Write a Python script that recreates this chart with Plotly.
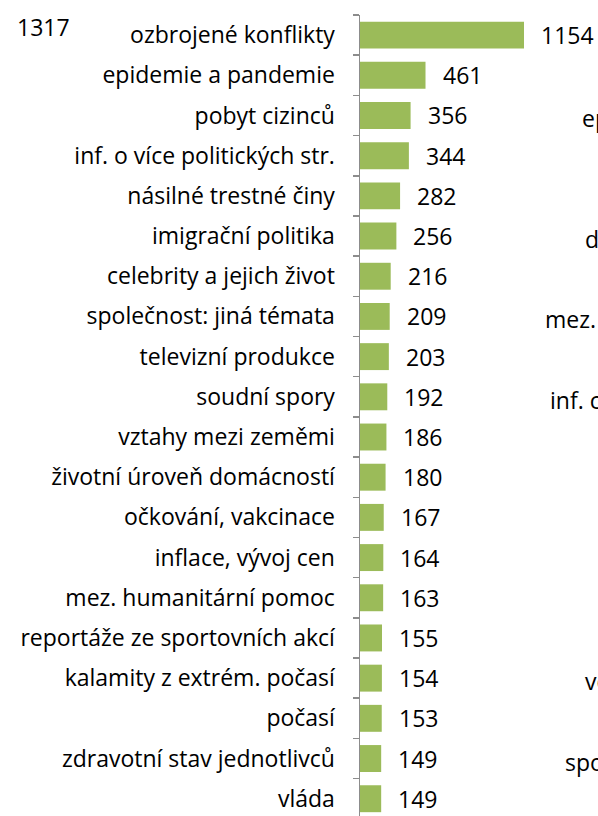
import plotly.graph_objects as go

categories = [
    "ozbrojené konflikty", "epidemie a pandemie", "pobyt cizinců",
    "inf. o více politických str.", "násilné trestné činy", "imigrační politika",
    "celebrity a jejich život", "společnost: jiná témata", "televizní produkce",
    "soudní spory", "vztahy mezi zeměmi", "životní úroveň domácností",
    "očkování, vakcinace", "inflace, vývoj cen", "mez. humanitární pomoc",
    "reportáže ze sportovních akcí", "kalamity z extrém. počasí", "počasí",
    "zdravotní stav jednotlivců", "vláda",
]
values = [1154, 461, 356, 344, 282, 256, 216, 209, 203, 192, 186, 180, 167,
          164, 163, 155, 154, 153, 149, 149]

# fragments of neighbouring charts visible at the crop edges
right_fragments = ["ep", "v", "d", "mez.", "inf. c", "ve", "spo"]
right_fragment_rows = [2, 4, 5, 7, 9, 16, 18]
left_value_text = "1317"

FONT = "Open Sans"
FS = 23
GREEN = "#9BBB59"
GRAY = "#8C8C8C"

L, T = 360, 15
W, H = 598, 816
plot_w = W - L
px_per_unit = (525 - 361) / 1154.0

fig = go.Figure()
fig.add_trace(go.Bar(
    x=values, y=categories, orientation="h",
    marker=dict(color=GREEN, line=dict(width=0)),
    width=0.67, hoverinfo="skip",
))

annotations = []
for c, v in zip(categories, values):
    annotations.append(dict(
        x=v, y=c, xref="x", yref="y", text=str(v), showarrow=False,
        xanchor="left", yanchor="middle", xshift=15,
        font=dict(family=FONT, size=FS, color="black"),
    ))

frag_px = [580, 596, 583, 543, 548, 583, 563]
for txt, row, px in zip(right_fragments, right_fragment_rows, frag_px):
    annotations.append(dict(
        x=(px - L) / plot_w, y=categories[row], xref="paper", yref="y",
        text=txt, showarrow=False, xanchor="left", yanchor="middle", yshift=-3,
        font=dict(family=FONT, size=FS, color="black"),
    ))

annotations.append(dict(
    x=(15 - L) / plot_w, y=categories[0], xref="paper", yref="y",
    text=left_value_text, showarrow=False, xanchor="left", yanchor="middle", yshift=8,
    font=dict(family=FONT, size=FS, color="black"),
))

fig.update_layout(
    width=W, height=H,
    margin=dict(l=L, r=0, t=T, b=0),
    paper_bgcolor="white", plot_bgcolor="white",
    showlegend=False,
    annotations=annotations,
    xaxis=dict(range=[0, plot_w / px_per_unit], visible=False, fixedrange=True),
    yaxis=dict(
        type="category", range=[19.43, -0.5],
        showline=True, linecolor=GRAY, linewidth=1.5,
        ticks="outside", tickson="boundaries", ticklen=6, tickcolor=GRAY, tickwidth=1.5,
        ticklabelstandoff=19,
        tickfont=dict(family=FONT, size=FS, color="black"),
        showgrid=False, zeroline=False, fixedrange=True,
    ),
)

fig.write_html(
    "out.html",
    config={"displayModeBar": False, "staticPlot": True},
    post_script="document.body.style.margin='0';document.body.style.overflow='hidden';",
)
